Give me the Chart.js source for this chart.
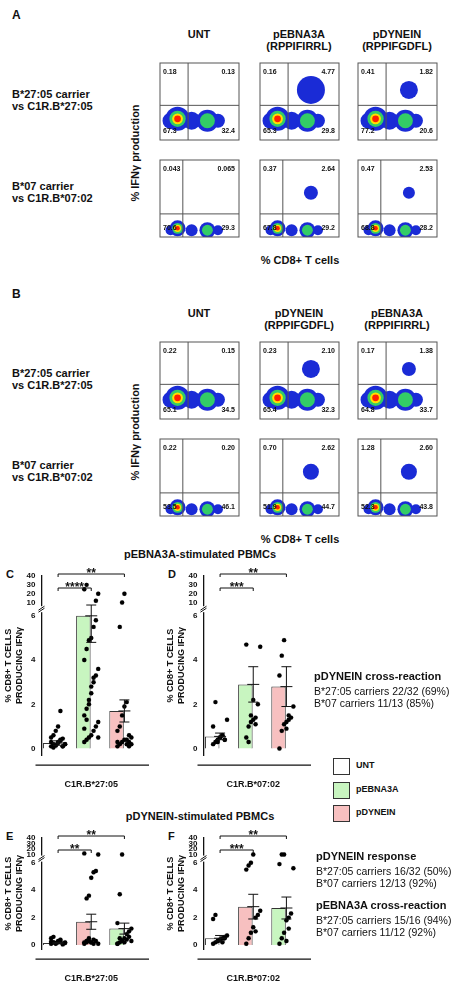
<!DOCTYPE html>
<html><head><meta charset="utf-8">
<script src="https://cdn.jsdelivr.net/npm/chart.js@4/dist/chart.umd.min.js"></script>
<style>
body{margin:0;background:#fff;width:474px;height:991px;position:relative;overflow:hidden;font-family:Arial,"Liberation Sans",sans-serif;color:#111}
.t{position:absolute;font-weight:bold;white-space:nowrap}
canvas{position:absolute}
.lg{position:absolute;width:15px;height:15px;border:1px solid #333}
</style></head><body>
<script>
// ---------- DATA ----------
const flowCols = [["UNT","pEBNA3A","pDYNEIN"],["UNT","pDYNEIN","pEBNA3A"]];
const flowSub = [["","(RPPIFIRRL)","(RPPIFGDFL)"],["","(RPPIFGDFL)","(RPPIFIRRL)"]];
// quadrant values [UL, UR, LL, LR]
const quadA1 = [["0.18","0.13","67.3","32.4"],["0.16","4.77","65.3","29.8"],["0.41","1.82","77.2","20.6"]];
const quadA2 = [["0.043","0.065","70.6","29.3"],["0.37","2.64","67.8","29.2"],["0.47","2.53","68.8","28.2"]];
const quadB1 = [["0.22","0.15","65.1","34.5"],["0.23","2.10","65.4","32.3"],["0.17","1.38","64.8","33.7"]];
const quadB2 = [["0.22","0.20","53.5","46.1"],["0.70","2.62","51.9","44.7"],["1.28","2.60","52.3","43.8"]];
// responder cluster sizes (UR population) per plot
const respA1 = [0,14,9], respA2 = [0,7,6], respB1 = [0,9,7], respB2 = [0,8,8];

const groups = ["UNT","pEBNA3A","pDYNEIN"];
const cMeans=[0.25,6.0,1.7], cErr=[0.1,1.2,0.5];
const cPts=[[0.1,0.2,0.15,0.3,0.4,0.1,0.2,0.5,0.6,0.8,1.0,1.7,0.1,0.2,0.3,0.05,0.15,0.25,0.35,0.45],
 [0.3,0.4,0.5,0.6,0.8,1.0,1.2,1.5,1.8,2.0,2.5,3.0,3.3,3.6,4.0,4.5,4.9,5.0,5.5,5.8,0.5,0.9,1.3,2.2,2.8,3.2,12,20,25,30],
 [0.1,0.2,0.3,0.4,0.2,0.3,0.5,0.8,1.0,1.5,1.9,2.1,0.1,0.2,0.3,5.5,10,20,0.4,0.6]];
const dMeans=[0.55,2.9,2.8], dErr=[0.15,0.8,0.9];
const dPts=[[0.2,0.3,0.4,0.5,0.6,0.4,1.3,1.0,2.1,0.3,0.5,0.6,0.4],
 [0.5,1.0,1.2,1.3,1.4,2.0,4.6,4.7,0.3,1.5,2.2,1.1],
 [0.0,0.8,1.1,1.2,1.3,1.4,1.9,3.3,4.2,4.9,0.9,1.5]];
const eMeans=[0.15,1.7,1.2], eErr=[0.05,0.55,0.4];
const ePts=[[0.1,0.2,0.15,0.3,0.4,0.1,0.2,0.5,0.6,0.1,0.2,0.3,0.05,0.15,0.25,0.2],
 [0.1,0.2,0.3,0.2,0.4,0.3,0.1,0.2,3.4,3.6,4.9,5.3,5.4,10,12,0.3,0.5,0.2,0.1],
 [0.1,0.2,0.3,0.5,0.8,1.0,1.2,1.6,3.7,10,0.2,0.4,0.6,0.3,0.1,0.5]];
const fMeans=[0.5,2.8,2.7], fErr=[0.2,0.9,0.8];
const fPts=[[0.1,0.2,0.3,0.4,0.5,0.6,0.7,1.9,2.2,0.3,0.4,0.2,0.5],
 [0.1,0.5,0.9,1.3,2.0,2.2,2.5,5.5,5.8,6.0,10,1.0],
 [0.1,0.5,0.9,1.8,2.0,2.3,5.6,5.9,10,10,0.3,1.2]];
const yTicks=[0,2,4,6,10,20,30,40];

const root=document.body;
function txt(s,x,y,sz,opts={}){const d=document.createElement('div');d.className='t';d.innerHTML=s;
 d.style.left=x+'px';d.style.top=y+'px';d.style.fontSize=sz+'px';
 if(opts.center){d.style.transform='translateX(-50%)';d.style.textAlign='center';}
 if(opts.normal)d.style.fontWeight='normal';
 if(opts.rot){d.style.transform='translate(-50%,-50%) rotate(-90deg)';}
 root.appendChild(d);return d;}
function cv(x,y,w,h){const c=document.createElement('canvas');c.width=w;c.height=h;c.style.left=x+'px';c.style.top=y+'px';c.style.width=w+'px';c.style.height=h+'px';root.appendChild(c);return c;}

function flow(x,y,q,resp,low){
 const c=cv(x,y,84,82);
 const cy=low?0.35:1.0;
 const clusters=[{x:0.6,y:cy,r:low?5:8,lv:1},{x:1.0,y:cy+0.1,r:low?8:12,lv:4},{x:1.8,y:cy,r:low?6:9,lv:1},{x:2.7,y:cy,r:low?8:11,lv:2},{x:3.3,y:cy,r:low?5:7,lv:1}];
 if(resp) clusters.push({x:2.9,y:low?2.3:2.6,r:resp,lv:1});
 const layers=[["#1a2bd6",1],["#33cc66",0.68],["#ffe000",0.45],["#ff2000",0.28]];
 const ds=[];
 layers.forEach(([col,f],li)=>{
  const data=clusters.filter(cl=>li<cl.lv).map(cl=>({x:cl.x,y:cl.y,r:cl.r*f}));
  ds.unshift({type:'bubble',data,backgroundColor:col,borderWidth:0});
 });
 new Chart(c,{type:'bubble',data:{datasets:ds},options:{responsive:false,animation:false,events:[],
  layout:{autoPadding:false,padding:{left:3,bottom:3,top:2,right:2}},
  plugins:{legend:{display:false},tooltip:{enabled:false}},
  scales:{x:{min:0,max:4.5,display:false},y:{min:0,max:4,display:false}}},
  plugins:[{id:'q',afterDatasetsDraw(ch){const {ctx,chartArea:a,scales:{x:sx,y:sy}}=ch;
   ctx.save();ctx.strokeStyle='#555';ctx.lineWidth=1;
   const gx=sx.getPixelForValue(low?1.3:1.6),gy=sy.getPixelForValue(low?1.2:1.8);
   ctx.beginPath();ctx.moveTo(gx,a.top);ctx.lineTo(gx,a.bottom);ctx.moveTo(a.left,gy);ctx.lineTo(a.right,gy);ctx.stroke();
   ctx.strokeRect(a.left,a.top,a.width,a.height);
   ctx.fillStyle='#111';ctx.font='bold 7px Arial';ctx.textBaseline='top';
   ctx.textAlign='left';ctx.fillText(q[0],a.left+3,a.top+6);ctx.fillText(q[2],a.left+3,a.bottom-12);
   ctx.textAlign='right';ctx.fillText(q[1],a.right-4,a.top+6);ctx.fillText(q[3],a.right-4,a.bottom-12);
   ctx.restore();}}]});
}

function flowPanel(top,letter,cols,subs,q1,q2,r1,r2){
 txt(letter,12,top,12);
 const xs=[157,257,355];
 xs.forEach((x,i)=>{txt(cols[i]+(subs[i]?'<br>'+subs[i]:''),x+42,top+20,11,{center:true});});
 xs.forEach((x,i)=>{flow(x,top+53,q1[i],r1[i],false);flow(x,top+150,q2[i],r2[i],true);});
 txt('B*27:05 carrier<br>vs C1R.B*27:05',12,top+80,11);
 txt('B*07 carrier<br>vs C1R.B*07:02',12,top+172,11);
 txt('% IFNγ production',135,top+145,11,{rot:true});
 txt('% CD8+ T cells',300,top+246,11,{center:true});
}
flowPanel(8,'A',flowCols[0],flowSub[0],quadA1,quadA2,respA1,respA2);
flowPanel(287,'B',flowCols[1],flowSub[1],quadB1,quadB2,respB1,respB2);

function tf(v){return v<=6?v:6.6+(v-10)*(1.2/30);}
const fill={UNT:'#ffffff',pEBNA3A:'#c8f5c0',pDYNEIN:'#f7c0c0'};
function bars(x,y,h,letter,order,means,errs,pts,label,sig){
 txt(letter,x+3,y+2,11);
 const c=cv(x,y,152,h);
 const ds=[{type:'bar',data:means.map(tf),backgroundColor:order.map(g=>fill[g]),borderColor:'#333',borderWidth:1,barPercentage:0.92,categoryPercentage:0.95,order:2}];
 pts.forEach((arr,gi)=>{
  ds.push({type:'scatter',data:arr.map((v,k)=>({x:gi+((k%7)-3)*0.07,y:tf(v)})),backgroundColor:'#000',pointRadius:2.2,order:1,xAxisID:'x2'});
 });
 new Chart(c,{data:{labels:order,datasets:ds},options:{responsive:false,animation:false,events:[],
  layout:{padding:{top:10,right:14}},
  plugins:{legend:{display:false},tooltip:{enabled:false}},
  scales:{
   x:{ticks:{display:false},grid:{display:false},border:{display:false},
      title:{display:true,text:label,font:{size:9,weight:'bold',family:'Arial'},color:'#111',padding:{top:16}}},
   x2:{type:'linear',display:false,min:-0.5,max:2.5},
   y:{min:-0.3,max:7.8,afterBuildTicks(a){a.ticks=yTicks.map(v=>({value:tf(v)}));},
      ticks:{callback:(v,i)=>yTicks[i],font:{size:8,weight:'bold',family:'Arial'},color:'#111',autoSkip:false,padding:2},
      grid:{display:false,drawTicks:true,tickLength:4},border:{color:'#111',width:1.3},
      title:{display:true,text:['% CD8+ T CELLS','PRODUCING IFNγ'],font:{size:9,weight:'bold',family:'Arial'},color:'#111',padding:0}}}},
  plugins:[{id:'e',afterDatasetsDraw(ch){const {ctx,scales:{x2:sx,y:sy},chartArea:a}=ch;ctx.save();
   ctx.strokeStyle='#111';ctx.lineWidth=1;
   means.forEach((m,i)=>{const px=sx.getPixelForValue(i),t=sy.getPixelForValue(tf(m+errs[i])),b=sy.getPixelForValue(tf(m-errs[i])),mm=sy.getPixelForValue(tf(m));
    ctx.beginPath();ctx.moveTo(px,t);ctx.lineTo(px,b);ctx.moveTo(px-5,t);ctx.lineTo(px+5,t);ctx.moveTo(px-5,b);ctx.lineTo(px+5,b);ctx.moveTo(px-6,mm);ctx.lineTo(px+6,mm);ctx.stroke();});
   const by=sy.getPixelForValue(6.3);ctx.fillStyle='#fff';ctx.fillRect(a.left-3,by-3,6,6);
   ctx.beginPath();ctx.moveTo(a.left-3,by+3);ctx.lineTo(a.left+3,by-1);ctx.moveTo(a.left-3,by+1);ctx.lineTo(a.left+3,by-3);ctx.stroke();
   ctx.lineWidth=1.3;ctx.beginPath();ctx.moveTo(a.left-6,a.bottom+10);ctx.lineTo(a.right+8,a.bottom+10);ctx.stroke();
   ctx.lineWidth=1;ctx.fillStyle='#111';ctx.font='bold 12px Arial';ctx.textAlign='center';
   sig.forEach(([i,j,s],k)=>{const yy=a.top-2+k*14;const x1=sx.getPixelForValue(i),x2=sx.getPixelForValue(j);
    ctx.beginPath();ctx.moveTo(x1,yy+3);ctx.lineTo(x1,yy);ctx.lineTo(x2,yy);ctx.lineTo(x2,yy+3);ctx.stroke();
    ctx.fillText(s,(x1+x2)/2,yy+3);});
   ctx.restore();}}]});
}
txt('pEBNA3A-stimulated PBMCs',200,548,11,{center:true});
bars(3,566,228,'C',groups,cMeans,cErr,cPts,'C1R.B*27:05',[[0,2,'**'],[0,1,'****']]);
bars(165,566,228,'D',groups,dMeans,dErr,dPts,'C1R.B*07:02',[[0,2,'**'],[0,1,'***']]);
txt('pDYNEIN-stimulated PBMCs',200,810,11,{center:true});
const g2=["UNT","pDYNEIN","pEBNA3A"];
bars(3,828,160,'E',g2,eMeans,eErr,ePts,'C1R.B*27:05',[[0,2,'**'],[0,1,'**']]);
bars(165,828,160,'F',g2,fMeans,fErr,fPts,'C1R.B*07:02',[[0,2,'**'],[0,1,'***']]);

[["UNT",758],["pEBNA3A",782],["pDYNEIN",805]].forEach(([g,yy])=>{
 const b=document.createElement('div');b.className='lg';b.style.left='333px';b.style.top=yy+'px';b.style.background=fill[g];root.appendChild(b);
 txt(g,356,yy+2,9);});
txt('pDYNEIN cross-reaction',314,670,11);
txt('B*27:05 carriers 22/32 (69%)<br>B*07 carriers 11/13 (85%)',314,685,10.5,{normal:true});
txt('pDYNEIN response',316,850,11);
txt('B*27:05 carriers 16/32 (50%)<br>B*07 carriers 12/13 (92%)',316,865,10.5,{normal:true});
txt('pEBNA3A cross-reaction',316,899,11);
txt('B*27:05 carriers 15/16 (94%)<br>B*07 carriers 11/12 (92%)',316,914,10.5,{normal:true});
</script></body></html>
